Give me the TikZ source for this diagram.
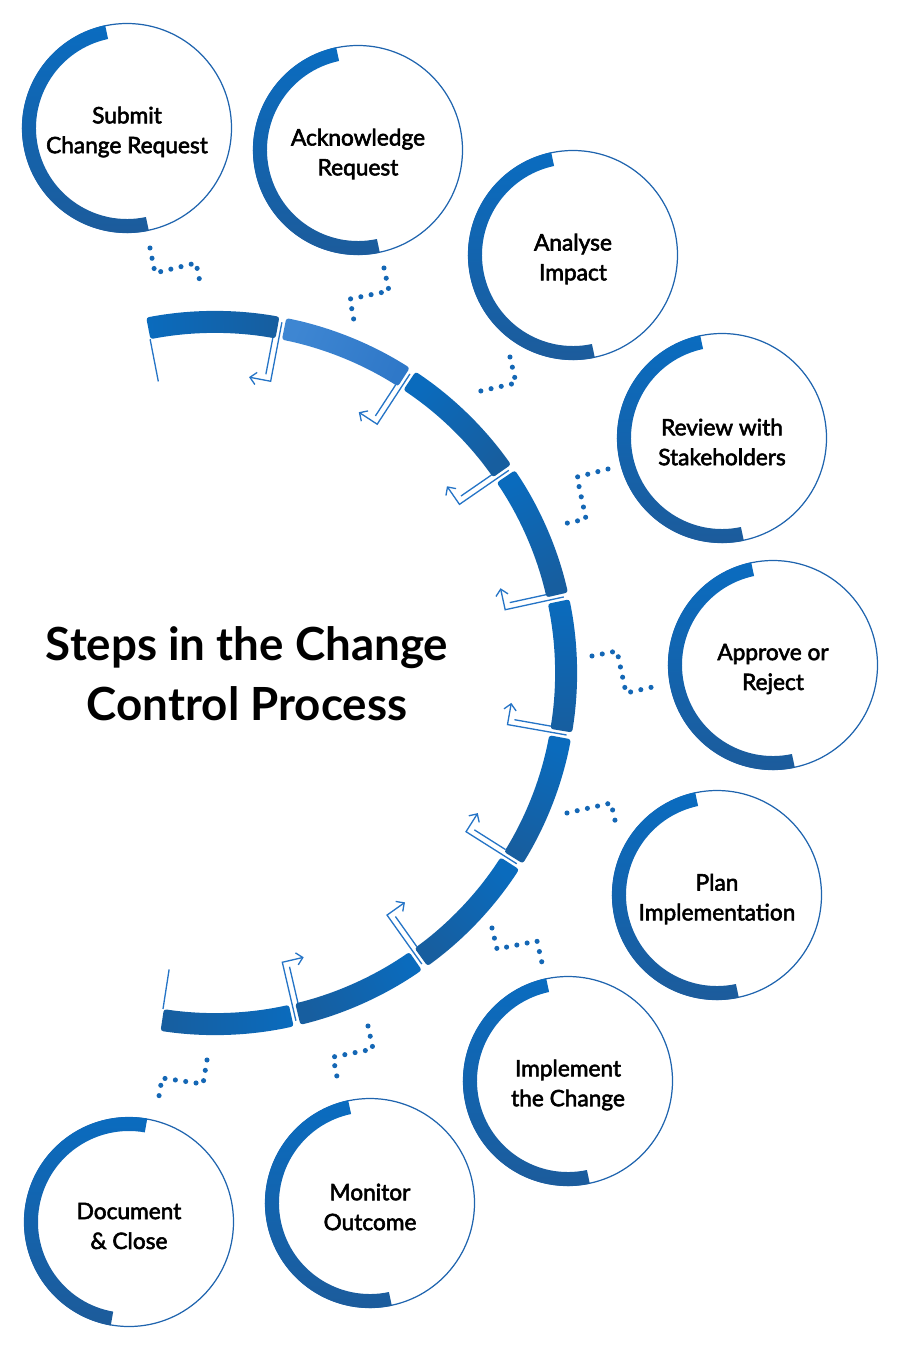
\documentclass[tikz,border=0pt]{standalone}
\usepackage{fontspec}
\setmainfont{Lato}
\newfontfamily\stepfont{Lato}[FakeBold=2.5]
\usepackage{tikz}
\usetikzlibrary{calc,arrows.meta}

\definecolor{segA}{HTML}{0A6BBD}
\definecolor{segB}{HTML}{175E9F}
\definecolor{segL}{HTML}{3E86D2}
\definecolor{segM}{HTML}{2F78C8}
\definecolor{ringA}{HTML}{0A6CC0}
\definecolor{ringB}{HTML}{1D5B9A}
\definecolor{ringline}{HTML}{1F64AE}
\definecolor{dotblue}{HTML}{1467B5}
\definecolor{arrowblue}{HTML}{2574C6}

\begin{document}
\begin{tikzpicture}[x=0.02cm,y=-0.02cm,
    steptext/.style={align=center,font=\stepfont\fontsize{12.9}{17}\selectfont},
    ringline/.style={draw=ringline,line width=0.7pt},
    band/.style={top color=ringA,bottom color=ringB},
    dots/.style={draw=dotblue,line width=2.9pt,line cap=round,dash pattern=on 0pt off 5.95pt},
    gapline/.style={draw=arrowblue,line width=0.75pt},
    gaparrow/.style={gapline,-{Straight Barb[length=3.5pt,width=7pt]}}]

    \useasboundingbox (0,0) rectangle (900,1348);

    \node at (247,674) [align=center,font=\bfseries\fontsize{26}{34}\selectfont] (title) {Steps in the Change\\Control Process};

    \begin{scope}[shift={(215,673)}]
      \foreach \k/\ca/\cb in {0/segA/segB,1/segL/segM,2/segA/segB,3/segA/segB,4/segA/segB,5/segA/segB,6/segA/segB,7/segA/segB,8/segA/segB} {
        \pgfmathsetmacro{\a}{-101.5+22.3*\k+0.55}
        \pgfmathsetmacro{\b}{-101.5+22.3*(\k+1)-0.55}
        \pgfmathsetmacro{\m}{-(\a+\b)/2}
        \shade[top color=\ca,bottom color=\cb,shading angle=\m,rounded corners=1.5pt]
          (\a:340) arc[start angle=\a,end angle=\b,radius=340] -- (\b:362) arc[start angle=\b,end angle=\a,radius=362] -- cycle;
      }
      \foreach \k in {1,...,8} {
        \pgfmathsetmacro{\a}{-101.5+22.3*\k}
        \draw[gaparrow] (\a:357) -- (\a:297) -- ++(\a-90:22);
        \draw[gapline] ($(\a:340)+(\a-90:6)$) -- ($(\a:303)+(\a-90:6)$);
      }
      \draw[gapline] (-101:340) -- (-101:297);
      \draw[gapline] (98.8:340) -- (98.8:300);
    \end{scope}

    \foreach \x/\y/\s in {127/128/-102,358/150/-102,573/255/-102,722/438/-102,773/665/-102,717/895/-102,568/1081/-102,370/1203/-102,129/1222/-80} {
      \begin{scope}[shift={(\x,\y)}]
        \draw[ringline] (0,0) circle[radius=104.5];
        \shade[band] (\s:105) arc[start angle=\s,end angle=\s-180,radius=105] -- (\s-180:91) arc[start angle=\s-180,end angle=\s,radius=91] -- cycle;
      \end{scope}
    }

    \node at (127,132) [steptext] (submit) {Submit\\Change Request};
    \node at (358,154) [steptext] (ack) {Acknowledge\\Request};
    \node at (573,259) [steptext] (analyse) {Analyse\\Impact};
    \node at (722,442) [steptext] (review) {Review with\\Stakeholders};
    \node at (773,669) [steptext] (approve) {Approve or\\Reject};
    \node at (717,899) [steptext] (plan) {Plan\\Implementation};
    \node at (568,1085) [steptext] (implement) {Implement\\the Change};
    \node at (370,1207) [steptext] (monitor) {Monitor\\Outcome};
    \node at (129,1226) [steptext] (close) {Document\\\& Close};

    \draw[dots] (150,248) -- (155,273) -- (196,263) -- (201,287);
    \draw[dots] (384,268) -- (389,291) -- (350,299) -- (354,321);
    \draw[dots] (510,357) -- (516,383) -- (472,393);
    \draw[dots] (608,469) -- (577,477) -- (586,519) -- (563,524);
    \draw[dots] (592,656) -- (617,651) -- (626,693) -- (657,686);
    \draw[dots] (567,813) -- (611,803) -- (617,829);
    \draw[dots] (492,928) -- (497,949) -- (537,941) -- (542,963);
    \draw[dots] (368,1026) -- (373,1049) -- (333,1057) -- (338,1082);
    \draw[dots] (207,1060) -- (203,1084) -- (162,1078) -- (158,1102);

\end{tikzpicture}
\end{document}
